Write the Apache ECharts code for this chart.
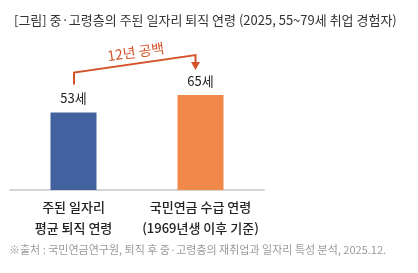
<!DOCTYPE html>
<html>
<head>
<meta charset="utf-8">
<script src="https://cdn.jsdelivr.net/npm/echarts@6/dist/echarts.min.js"></script>
<style>
  html, body { margin: 0; padding: 0; background: #fff; }
  #chart { width: 418px; height: 273px; }
</style>
</head>
<body>
<div id="chart"></div>
<script>
var FONT = "'Noto Sans CJK KR', 'Noto Sans', sans-serif"

var titleText = '[그림] 중·고령층의 주된 일자리 퇴직 연령 (2025, 55~79세 취업 경험자)'
var sourceText = '※출처 : 국민연금연구원, 퇴직 후 중·고령층의 재취업과 일자리 특성 분석, 2025.12.'
var categories = ['주된 일자리\n평균 퇴직 연령', '국민연금 수급 연령\n(1969년생 이후 기준)']
var values = [53, 65]
var barColors = ['#41629f', '#f0884a']
var gapText = (values[1] - values[0]) + '년 공백'

var chart = echarts.init(document.getElementById('chart'))

chart.setOption({
  animation: false,
  textStyle: { fontFamily: FONT },
  title: {
    text: titleText,
    left: 9,
    top: 9,
    textStyle: { fontSize: 13, fontWeight: 'normal', color: '#333', fontFamily: FONT }
  },
  grid: { left: 10, right: 154, top: 44, bottom: 83 },
  xAxis: {
    type: 'category',
    data: categories,
    axisLine: { lineStyle: { color: '#d4d4d4', width: 2 } },
    axisTick: { show: false },
    axisLabel: {
      interval: 0,
      hideOverlap: false,
      color: '#222',
      fontSize: 13,
      fontWeight: 500,
      lineHeight: 21,
      margin: 7,
      fontFamily: FONT
    }
  },
  yAxis: {
    type: 'value',
    min: 0,
    max: 100,
    show: false
  },
  series: [{
    type: 'bar',
    barWidth: 46,
    data: values.map(function (v, i) {
      return { value: v, itemStyle: { color: barColors[i] } }
    }),
    label: {
      show: true,
      position: 'top',
      distance: 8,
      formatter: '{c}세',
      color: '#222',
      fontSize: 13,
      fontFamily: FONT
    }
  }]
})

// 괄호 화살표: 막대 위치에서 계산
var p0 = chart.convertToPixel({ seriesIndex: 0 }, [0, values[0]])
var p1 = chart.convertToPixel({ seriesIndex: 0 }, [1, values[1]])
var x0 = p0[0] + 0.5
var x1 = p1[0] - 5
var lineColor = '#d4532b'
var yLeftBottom = p0[1] - 28
var yLeftTop = p0[1] - 40
var yRightTop = p1[1] - 40
var yTip = p1[1] - 25
var angle = Math.atan2(yLeftTop - yRightTop, x1 - x0)

chart.setOption({
  graphic: [
    {
      type: 'polyline',
      shape: { points: [[x0, yLeftBottom], [x0, yLeftTop], [x1, yRightTop], [x1, yTip - 7]] },
      style: { stroke: lineColor, lineWidth: 2, fill: null }
    },
    {
      type: 'polygon',
      shape: { points: [[x1 - 4.5, yTip - 8], [x1 + 4.5, yTip - 8], [x1, yTip]] },
      style: { fill: lineColor }
    },
    {
      type: 'text',
      x: (x0 + x1) / 2 + 1,
      y: (yLeftTop + yRightTop) / 2 - 12,
      rotation: angle,
      style: {
        text: gapText,
        fill: lineColor,
        font: '14px ' + FONT,
        align: 'center',
        verticalAlign: 'middle'
      }
    },
    {
      type: 'text',
      left: 9,
      top: 244,
      style: {
        text: sourceText,
        fill: '#9a9a9a',
        font: '11px ' + FONT
      }
    }
  ]
})
</script>
</body>
</html>
